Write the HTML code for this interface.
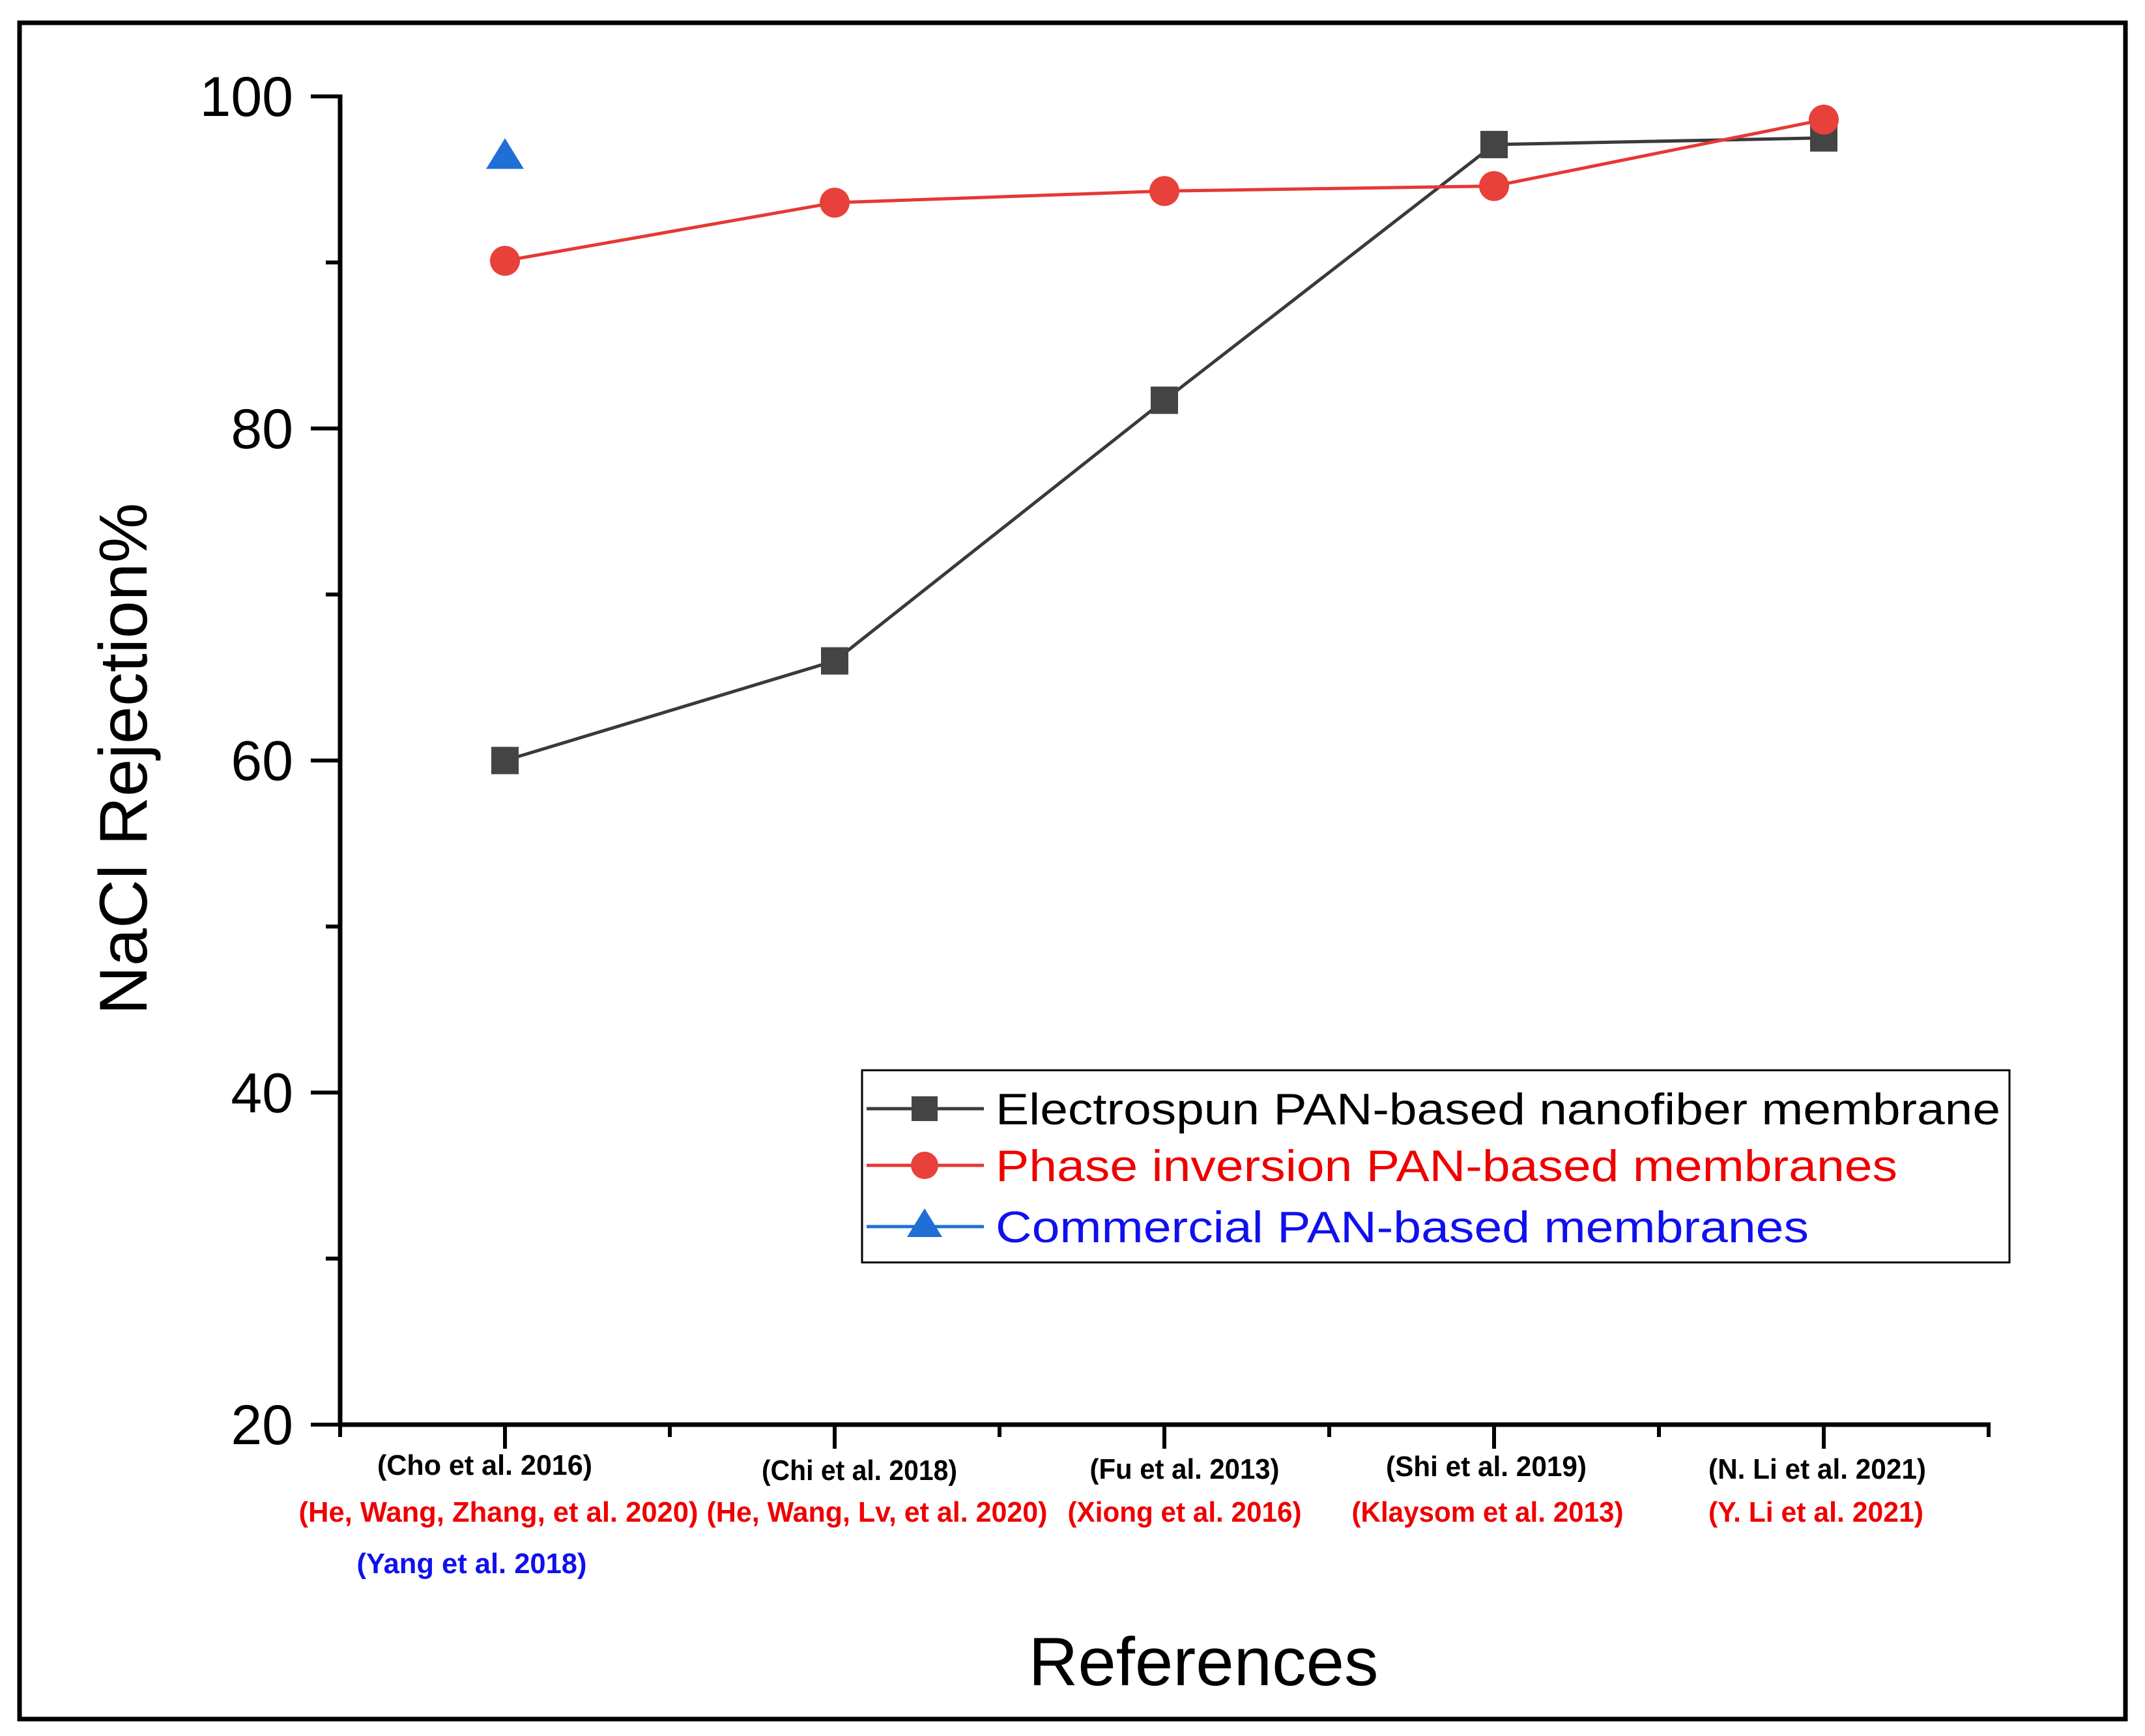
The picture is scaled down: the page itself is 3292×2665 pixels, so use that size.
<!DOCTYPE html>
<html><head><meta charset="utf-8"><style>
html,body{margin:0;padding:0;background:#fff;}
svg{display:block;font-family:"Liberation Sans",Arial,sans-serif;}
</style></head><body>
<svg id="chart" width="3292" height="2665" viewBox="0 0 3292 2665" xmlns="http://www.w3.org/2000/svg">
<rect x="30" y="35" width="3232" height="2604" fill="none" stroke="#000" stroke-width="7"/>
<g id="axes"></g>
<g id="series"></g>
<g id="legend"></g>
<text x="0" y="0" font-size="104" text-anchor="middle" transform="translate(225,1165) rotate(-90)">NaCl Rejection%</text>
<text x="1847" y="2587" font-size="105" text-anchor="middle">References</text>
</svg>
<script>
const categories = [1, 2, 3, 4, 5];
const electrospun = [60, 66, 81.7, 97.1, 97.5];
const phaseInversion = [90.1, 93.6, 94.3, 94.6, 98.6];
const commercial = [96.3];
const commercialX = [1];
const yTicks = [20, 40, 60, 80, 100];
const refsBlack = ["(Cho et al. 2016)", "(Chi et al. 2018)", "(Fu et al. 2013)", "(Shi et al. 2019)", "(N. Li et al. 2021)"];
const refsRed = ["(He, Wang, Zhang, et al. 2020)", "(He, Wang, Lv, et al. 2020)", "(Xiong et al. 2016)", "(Klaysom et al. 2013)", "(Y. Li et al. 2021)"];
const refsBlue = ["(Yang et al. 2018)"];

const NS = "http://www.w3.org/2000/svg";
const X0 = 522, X1 = 3052, Y0 = 2187, Y1 = 148;
const xS = v => X0 + (v - 0.5) / 5 * (X1 - X0);
const yS = v => Y0 - (v - 20) / 80 * (Y0 - Y1);
function mk(parent, tag, attrs, text) {
  const e = document.createElementNS(NS, tag);
  for (const k in attrs) e.setAttribute(k, attrs[k]);
  if (text !== undefined) e.textContent = text;
  parent.appendChild(e);
  return e;
}
const axes = document.getElementById('axes');
const series = document.getElementById('series');
const legend = document.getElementById('legend');

let el = mk(axes, 'line', {x1: X0, y1: Y1 - 3, x2: X0, y2: Y0 + 3, stroke: '#000', 'stroke-width': 7});


el = mk(axes, 'line', {x1: X0 - 3, y1: Y0, x2: X1 + 3, y2: Y0, stroke: '#000', 'stroke-width': 7});



for (let v = 20; v <= 100; v += 10) {
  const major = v % 20 === 0;
  el = mk(axes, 'line', {x1: X0 - (major ? 45 : 22), y1: yS(v), x2: X0, y2: yS(v), stroke: '#000', 'stroke-width': 6});
  
  
}
yTicks.forEach(v => {
  el = mk(axes, 'text', {x: 450, y: yS(v) + 30, 'font-size': 86, 'text-anchor': 'end'}, String(v));
  
  
});
for (let v = 0.5; v <= 5.5; v += 0.5) {
  const major = Number.isInteger(v);
  el = mk(axes, 'line', {x1: xS(v), y1: Y0, x2: xS(v), y2: Y0 + (major ? 37 : 19), stroke: '#000', 'stroke-width': 6});
  
  
}
const blackW = [330, 300, 291, 308, 334], redW = [613, 523, 359, 417, 330];
const blackDy = [2264, 2272, 2270, 2266, 2270], redDy = 2336;
const blackDx = [-31, 38, 31, -12, -10], redDx = [-10, 65, 31, -10, -12];
categories.forEach((c, i) => {
  el = mk(axes, 'text', {x: xS(c) + blackDx[i], y: blackDy[i], 'font-size': 44, 'font-weight': 'bold', 'text-anchor': 'middle', textLength: blackW[i], lengthAdjust: 'spacingAndGlyphs'}, refsBlack[i]);
  
  
  el = mk(axes, 'text', {x: xS(c) + redDx[i], y: redDy, 'font-size': 44, 'font-weight': 'bold', fill: '#ee0000', 'text-anchor': 'middle', textLength: redW[i], lengthAdjust: 'spacingAndGlyphs'}, refsRed[i]);
  
  
});
el = mk(axes, 'text', {x: xS(commercialX[0]) - 51, y: 2415, 'font-size': 44, 'font-weight': 'bold', fill: '#1010ee', 'text-anchor': 'middle', textLength: 353, lengthAdjust: 'spacingAndGlyphs'}, refsBlue[0]);



function polyline(vals, color, name) {
  const pts = vals.map((v, i) => xS(categories[i]) + ',' + yS(v)).join(' ');
  const p = mk(series, 'polyline', {points: pts, fill: 'none', stroke: color, 'stroke-width': 5});
  
  
}
polyline(electrospun, '#3a3a3a', 'electrospun-line');
polyline(phaseInversion, '#e53935', 'phase-inversion-line');
electrospun.forEach((v, i) => {
  const r = mk(series, 'rect', {x: xS(categories[i]) - 21, y: yS(v) - 21, width: 42, height: 42, fill: '#444'});
  
  
});
phaseInversion.forEach((v, i) => {
  const c = mk(series, 'circle', {cx: xS(categories[i]), cy: yS(v), r: 23, fill: '#e8403a'});
  
  
});
commercial.forEach((v, i) => {
  const cx = xS(commercialX[i]), cy = yS(v);
  const t = mk(series, 'polygon', {points: `${cx},${cy - 30} ${cx + 29},${cy + 17} ${cx - 29},${cy + 17}`, fill: '#1f6fd6'});
  
  
});

el = mk(legend, 'rect', {x: 1323, y: 1643, width: 1761, height: 295, fill: '#fff', stroke: '#000', 'stroke-width': 3});


const legendItems = [
  {label: 'Electrospun PAN-based nanofiber membrane', line: '#3a3a3a', text: '#000', y: 1702, w: 1542, m: 'sq'},
  {label: 'Phase inversion PAN-based membranes', line: '#e53935', text: '#ee0000', y: 1789, w: 1384, m: 'ci'},
  {label: 'Commercial PAN-based membranes', line: '#1f6fd6', text: '#1010ee', y: 1883, w: 1248, m: 'tr'}
];
legendItems.forEach(it => {
  el = mk(legend, 'line', {x1: 1330, y1: it.y, x2: 1510, y2: it.y, stroke: it.line, 'stroke-width': 5});
  
  
  if (it.m === 'sq') el = mk(legend, 'rect', {x: 1399, y: it.y - 19, width: 40, height: 38, fill: '#444'});
  else if (it.m === 'ci') el = mk(legend, 'circle', {cx: 1419, cy: it.y, r: 21, fill: '#e8403a'});
  else el = mk(legend, 'polygon', {points: `1419,${it.y - 28} 1446,${it.y + 16} 1392,${it.y + 16}`, fill: '#1f6fd6'});
  
  
  el = mk(legend, 'text', {x: 1528, y: it.y + 24, 'font-size': 68, fill: it.text, textLength: it.w, lengthAdjust: 'spacingAndGlyphs'}, it.label);
  
  
});
</script>
</body></html>
